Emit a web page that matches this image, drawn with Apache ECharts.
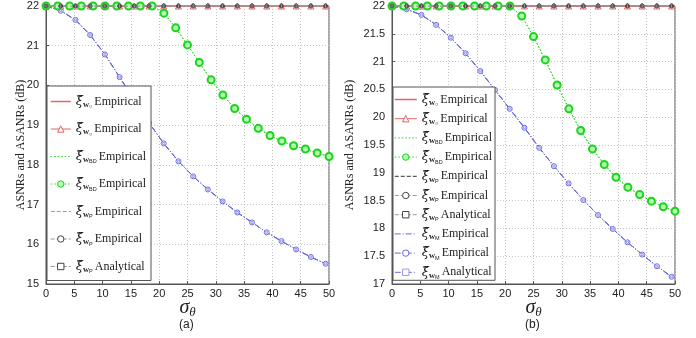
<!DOCTYPE html>
<html>
<head>
<meta charset="utf-8">
<script src="https://cdn.jsdelivr.net/npm/echarts@6/dist/echarts.min.js"></script>
<style>
  html, body { margin: 0; padding: 0; background: #fff; }
  #chart { width: 696px; height: 338px; }
</style>
</head>
<body>
<div id="chart"></div>
<script>
// sigma_theta sample points
const sigmaEnds = [0, 50];
const sigmaM = [0, 2.6, 5.2, 7.8, 10.4, 13, 15.6, 18.2, 20.8, 23.4, 26, 28.6, 31.2, 33.8, 36.4, 39, 41.6, 44.2, 46.8, 49.4];
const sigmaBD = [0, 2.08, 4.17, 6.25, 8.33, 10.42, 12.5, 14.58, 16.67, 18.75, 20.83, 22.92, 25, 27.08, 29.17, 31.25, 33.33, 35.42, 37.5, 39.58, 41.67, 43.75, 45.83, 47.92, 50];

// flat curves (w_O and w_P sit on 22 dB)
const flatEnds = [22, 22];
const flatM = [22, 22, 22, 22, 22, 22, 22, 22, 22, 22, 22, 22, 22, 22, 22, 22, 22, 22, 22, 22];

// panel (a)
const bdA = [22, 22, 22, 22, 22, 22, 22, 22, 22, 22, 21.82, 21.45, 21.02, 20.58, 20.14, 19.76, 19.42, 19.15, 18.92, 18.74, 18.6, 18.48, 18.4, 18.3, 18.21];
const mA = [22, 21.88, 21.65, 21.27, 20.78, 20.21, 19.63, 19.06, 18.54, 18.09, 17.71, 17.38, 17.08, 16.8, 16.55, 16.3, 16.08, 15.87, 15.68, 15.51];
// panel (b)
const bdB = [22, 22, 22, 22, 22, 22, 22, 22, 22, 22, 22, 21.82, 21.45, 21.03, 20.58, 20.15, 19.76, 19.43, 19.15, 18.92, 18.74, 18.61, 18.49, 18.39, 18.31];
const mB = [22, 21.94, 21.84, 21.66, 21.43, 21.15, 20.83, 20.49, 20.15, 19.81, 19.45, 19.12, 18.81, 18.51, 18.24, 17.99, 17.75, 17.53, 17.32, 17.13];

const yTicksA = [15, 16, 17, 18, 19, 20, 21, 22];
const yTicksB = [17, 17.5, 18, 18.5, 19, 19.5, 20, 20.5, 21, 21.5, 22];

// legend entries: [key, subscript, kind]
const legendA = [['a1', '○', 'Empirical'], ['a2', '○', 'Empirical'], ['a3', 'BD', 'Empirical'], ['a4', 'BD', 'Empirical'],
  ['a5', 'P', 'Empirical'], ['a6', 'P', 'Empirical'], ['a7', 'P', 'Analytical']];
const legendB = [['b1', '○', 'Empirical'], ['b2', '○', 'Empirical'], ['b3', 'BD', 'Empirical'], ['b4', 'BD', 'Empirical'],
  ['b5', 'P', 'Empirical'], ['b6', 'P', 'Empirical'], ['b7', 'P', 'Analytical'],
  ['b8', 'M', 'Empirical'], ['b9', 'M', 'Empirical'], ['b10', 'M', 'Analytical']];

const RED = '#e46464', GREEN = '#22dd22', BLUE = '#6a6ae0', GRAY = '#9a9a9a';
const DASHDOT = [6, 2, 1, 2];
const CLEAR = 'rgba(255,255,255,0)';

const pairs = (xs, ys) => xs.map((x, i) => [x, ys[i]]);

function line(name, g, xs, ys, color, type, symbol, size, z, itemStyle) {
  return {
    name: name, type: 'line', xAxisIndex: g, yAxisIndex: g,
    data: pairs(xs, ys),
    symbol: symbol || 'none', symbolSize: size || 6, showAllSymbol: true,
    lineStyle: { color: color, width: 1, type: type },
    itemStyle: itemStyle || { color: color, borderColor: color, borderWidth: 1 },
    z: z || 2, animation: false, silent: true
  };
}

function hollow(c) { return { color: '#fff', borderColor: c, borderWidth: 1 }; }

function panelSeries(g, p, bd, m, withM) {
  return [
    line(p + '1', g, sigmaEnds, flatEnds, RED, 'solid', 'none', 0, 3),
    line(p + '2', g, sigmaM, flatM, RED, 'solid', 'triangle', 6, 3, hollow(RED)),
    line(p + '3', g, sigmaBD, bd, GREEN, [1.5, 2], 'none', 0, 4),
    line(p + '4', g, sigmaBD, bd, GREEN, [1.5, 2], 'circle', 7, 4, { color: '#b4ffb4', borderColor: '#1cd41c', borderWidth: 2 }),
    line(p + '5', g, sigmaEnds, flatEnds, withM ? '#333' : GRAY, 'dashed', 'none', 0, 1),
    line(p + '6', g, sigmaM, flatM, GRAY, 'dashed', 'circle', 4, 5, hollow('#444')),
    line(p + '7', g, sigmaM, flatM, GRAY, 'dashed', 'rect', 2, 5, hollow('#444')),
    line(p + '8', g, sigmaM, m, BLUE, DASHDOT, 'none', 0, 2),
    line(p + '9', g, sigmaM, m, BLUE, DASHDOT, 'circle', 5, 2, hollow(BLUE)),
    line(p + '10', g, sigmaM, m, BLUE, DASHDOT, 'rect', 2, 2, hollow('#9a9aee'))
  ];
}

const chart = echarts.init(document.getElementById('chart'), null, { renderer: 'canvas' });
const seriesA = panelSeries(0, 'a', bdA, mA, false);
const seriesB = panelSeries(1, 'b', bdB, mB, true);
const allSeries = seriesA.concat(seriesB);

const seriesByName = {};
allSeries.forEach(function (s) { seriesByName[s.name] = s; });
const labelOf = {};
legendA.concat(legendB).forEach(function (e) { labelOf[e[0]] = e; });

const rich = {
  xi: { fontFamily: 'DejaVu Serif', fontStyle: 'italic', fontSize: 13, color: '#222' },
  w: { fontFamily: 'Liberation Serif', fontWeight: 'bold', fontSize: 8.5, color: '#222', padding: [6, 0, 0, 0] },
  s: { fontFamily: 'Liberation Sans', fontSize: 5.5, color: '#222', padding: [10, 0, 0, 0] },
  t: { fontFamily: 'Liberation Serif', fontSize: 12, color: '#222', padding: [0, 0, 0, 2] }
};

// legend items copy the look of their series explicitly
function legendItem(key) {
  const s = seriesByName[key];
  const solidOnly = s.symbol === 'none' && s.lineStyle.type === 'solid';
  const item = {
    name: key,
    lineStyle: { color: s.lineStyle.color, type: s.lineStyle.type, width: solidOnly ? 1.5 : 1, opacity: 1 }
  };
  if (s.symbol === 'none') {
    item.itemStyle = { color: CLEAR, borderColor: CLEAR, borderWidth: 0 };
  } else {
    item.itemStyle = { color: s.itemStyle.color, borderColor: s.itemStyle.borderColor, borderWidth: 1, opacity: 1 };
  }
  return item;
}

function legendCfg(list, left, top, gap, width, pad) {
  return {
    orient: 'vertical', left: left, top: top,
    data: list.map(function (e) { return legendItem(e[0]); }),
    itemWidth: width, itemHeight: 8, itemGap: gap,
    padding: pad,
    backgroundColor: '#fff', borderColor: '#555', borderWidth: 1,
    selectedMode: false,
    formatter: function (n) {
      const e = labelOf[n];
      return '{xi|ξ\u0303}{w|w}{s|' + e[1] + '}{t|' + e[2] + '}';
    },
    textStyle: { rich: rich }
  };
}

function xAxisCfg(g) {
  return {
    gridIndex: g, type: 'value', min: 0, max: 50, interval: 5,
    axisLine: { show: true, lineStyle: { color: '#555' } },
    axisTick: { show: true, inside: true, length: 3, lineStyle: { color: '#555' } },
    axisLabel: { color: '#222', fontFamily: 'Liberation Sans', fontSize: 11, margin: 4 },
    splitLine: { show: true, lineStyle: { color: '#c4c4c4', type: [1, 2] } },
    name: '{s|σ}{t|θ}', nameLocation: 'middle', nameGap: 12, nameMoveOverlap: false,
    nameTextStyle: { rich: {
      s: { fontFamily: 'Liberation Serif', fontStyle: 'italic', fontSize: 20, color: '#222' },
      t: { fontFamily: 'Liberation Serif', fontStyle: 'italic', fontSize: 13, color: '#222', padding: [10, 0, 0, 0] }
    } }
  };
}

function yAxisCfg(g, min, interval, gap) {
  return {
    gridIndex: g, type: 'value', min: min, max: 22, interval: interval,
    axisLine: { show: true, lineStyle: { color: '#555' } },
    axisTick: { show: true, inside: true, length: 3, lineStyle: { color: '#555' } },
    axisLabel: { color: '#222', fontFamily: 'Liberation Sans', fontSize: 11, margin: 7 },
    splitLine: { show: true, lineStyle: { color: '#c4c4c4', type: [1, 2] } },
    name: 'ASNRs and ASANRs (dB)', nameLocation: 'middle', nameGap: gap, nameMoveOverlap: false,
    nameTextStyle: { fontFamily: 'Liberation Serif', fontSize: 12, color: '#222' }
  };
}

chart.setOption({
  backgroundColor: '#fff',
  animation: false,
  grid: [
    { left: 46, top: 6, width: 283, height: 278, show: true, borderColor: '#555', borderWidth: 1 },
    { left: 392, top: 6, width: 283, height: 278, show: true, borderColor: '#555', borderWidth: 1 }
  ],
  xAxis: [xAxisCfg(0), xAxisCfg(1)],
  yAxis: [yAxisCfg(0, yTicksA[0], 1, 19), yAxisCfg(1, yTicksB[0], 0.5, 36)],
  legend: [legendCfg(legendA, 47, 86, 13, 20, [9, 5, 6, 3]), legendCfg(legendB, 393, 87, 4.7, 22, [6, 3, 0, 1])],
  graphic: [
    { type: 'text', left: 179, top: 319, style: { text: '(a)', font: '12px "Liberation Sans"', fill: '#222' } },
    { type: 'text', left: 525, top: 319, style: { text: '(b)', font: '12px "Liberation Sans"', fill: '#222' } }
  ],
  series: allSeries
});
</script>
</body>
</html>
